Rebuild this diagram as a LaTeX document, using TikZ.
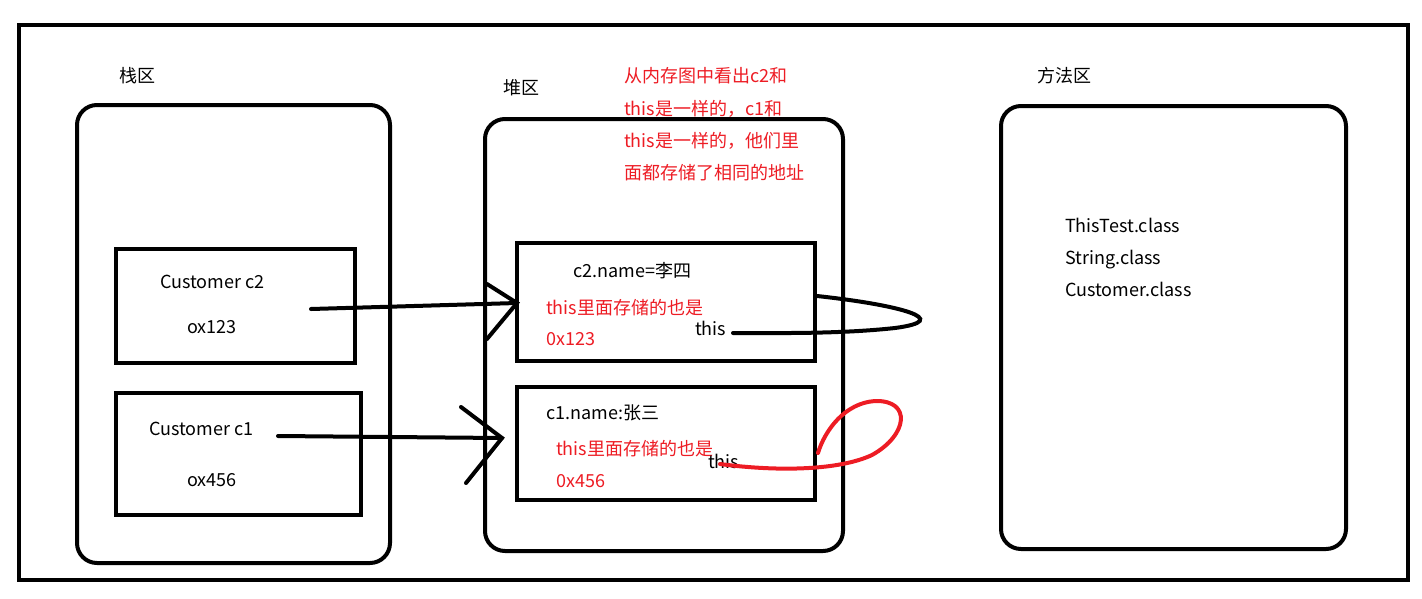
\documentclass[tikz,border=0pt]{standalone}
\usepackage{fontspec}
\setmainfont{Noto Sans CJK SC}
\definecolor{pred}{RGB}{237,28,36}
\begin{document}
\begin{tikzpicture}[x=1pt,y=-1pt,
  area/.style={draw,line width=4pt,rounded corners=20pt},
  cell/.style={draw,line width=4pt},
  lbl/.style={font=\fontsize{18}{21}\selectfont,inner sep=0pt,anchor=west,text height=14pt,text depth=4pt},
  rlbl/.style={lbl,text=pred},
  conn/.style={line width=4pt,line cap=round},
  ]
\useasboundingbox (0,0) rectangle (1422,598);
\draw[line width=4pt] (19,25) rectangle (1408,580);
% areas
\draw[area] (77,105) rectangle (390,563);
\draw[area] (485,119) rectangle (843,551);
\draw[area] (1001,106) rectangle (1346,549);
\node[lbl] (tstack) at (119,77) {栈区};
\node[lbl] (theap) at (503,89) {堆区};
\node[lbl] (tmeth) at (1037,77) {方法区};
% note
\node[rlbl] (n1) at (624,77) {从内存图中看出c2和};
\node[rlbl] (n2) at (624,110) {this是一样的，c1和};
\node[rlbl] (n3) at (624,142) {this是一样的，他们里};
\node[rlbl] (n4) at (624,174) {面都存储了相同的地址};
% stack cells
\draw[cell] (116,249) rectangle (355,363);
\draw[cell] (116,393) rectangle (361,515);
\node[lbl] (s1) at (160,283) {Customer c2};
\node[lbl] (s2) at (187,328) {ox123};
\node[lbl] (s3) at (149,430) {Customer c1};
\node[lbl] (s4) at (187,481) {ox456};
% heap cells
\draw[cell] (517,243) rectangle (815,361);
\draw[cell] (517,387) rectangle (815,500);
\node[lbl] (h1) at (573,272) {c2.name=李四};
\node[rlbl] (h2) at (546,309) {this里面存储的也是};
\node[rlbl] (h3) at (546,340) {0x123};
\node[lbl] (h4) at (695,330) {this};
\node[lbl] (k1) at (546,414) {c1.name:张三};
\node[rlbl] (k2) at (556,450) {this里面存储的也是};
\node[rlbl] (k3) at (556,482) {0x456};
\node[lbl] (k4) at (708,463) {this};
% method area
\node[lbl] (m1) at (1065,227) {ThisTest.class};
\node[lbl] (m2) at (1065,259) {String.class};
\node[lbl] (m3) at (1065,291) {Customer.class};
% arrows
\coordinate (a1s) at (311,309);
\coordinate (a1e) at (517,303);
\draw[conn] (a1s) -- (a1e);
\draw[conn] (487,284) -- (a1e) -- (487,339);
\coordinate (a2s) at (278,436);
\coordinate (a2e) at (502,438);
\draw[conn] (a2s) -- (a2e);
\draw[conn] (461,407) -- (a2e) -- (466,483);
% loops
\draw[conn] (817,296) .. controls (900,305) and (955,320) .. (895,328) .. controls (840,334) and (780,333) .. (733,333);
\draw[conn,pred] (720,464) .. controls (780,472) and (840,470) .. (872,455) .. controls (908,435) and (912,400) .. (875,401) .. controls (845,403) and (825,430) .. (818,453);
\end{tikzpicture}
\end{document}
